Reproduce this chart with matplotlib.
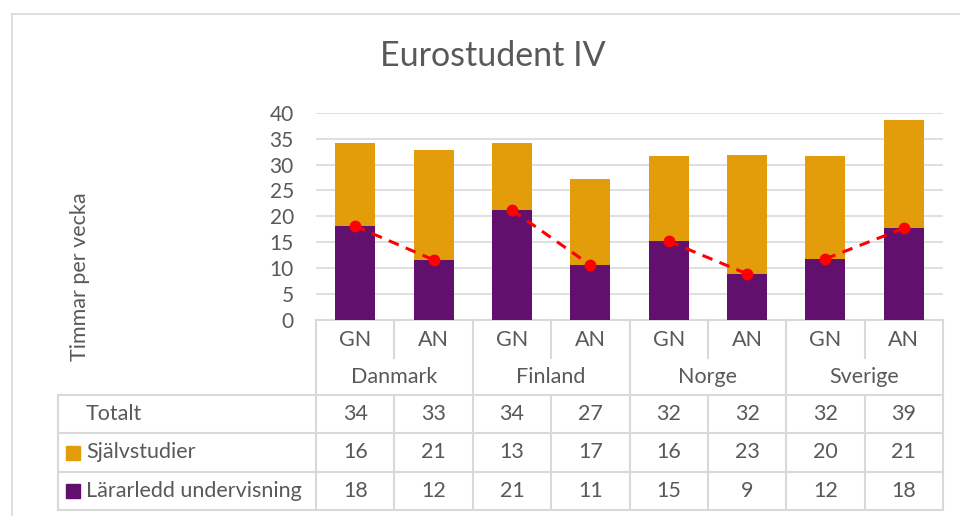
import matplotlib
matplotlib.use('Agg')
import matplotlib.pyplot as plt
from matplotlib.patches import Rectangle
from matplotlib.transforms import blended_transform_factory

plt.rcParams['font.family'] = ['Lato', 'DejaVu Sans']

# Data
countries = ["Danmark", "Finland", "Norge", "Sverige"]
levels = ["GN", "AN"]
lararledd = [18.1, 11.6, 21.2, 10.6, 15.2, 8.9, 11.8, 17.7]
sjalvstudier = [16.1, 21.2, 12.9, 16.6, 16.4, 23.0, 19.8, 20.9]
yticks = [0, 5, 10, 15, 20, 25, 30, 35, 40]

totalt = [a + b for a, b in zip(lararledd, sjalvstudier)]

purple = "#61116D"
orange = "#E39C0A"
grey_txt = "#595959"
grid_col = "#D9D9D9"
fs = 15.5

W, H = 960, 516
fig = plt.figure(figsize=(W / 100, H / 100), dpi=100)

# overlay axes in pixel coordinates for the table / frame
ov = fig.add_axes([0, 0, 1, 1])
ov.set_xlim(0, W)
ov.set_ylim(H, 0)
ov.axis('off')

left, right, top, bottom = 316, 943, 112.7, 320
ax = fig.add_axes([left / W, 1 - bottom / H, (right - left) / W, (bottom - top) / H])
ax.set_facecolor('none')

x = list(range(len(lararledd)))
ax.bar(x, lararledd, width=0.51, color=purple, zorder=3)
ax.bar(x, sjalvstudier, width=0.51, bottom=lararledd, color=orange, zorder=3)

# red dashed line between GN and AN within each country
for i in range(len(countries)):
    xs = x[2 * i:2 * i + 2]
    ys = lararledd[2 * i:2 * i + 2]
    ax.plot(xs, ys, color="red", linestyle=(0, (3.5, 2.5)), linewidth=2.2, marker='o',
            markersize=7.5, zorder=4)

ax.set_xlim(-0.5, len(x) - 0.5)
ax.set_ylim(0, 40)
ax.set_yticks(yticks)
ax.set_xticks([])
ax.grid(axis='y', color=grid_col, linewidth=1.2, zorder=0)
for s in ax.spines.values():
    s.set_visible(False)
ax.tick_params(axis='y', length=0, labelsize=15, labelcolor=grey_txt, pad=16)

# frame of the chart
ov.plot([12, 12], [14, H], color=grid_col, lw=1.2)
ov.plot([12, W], [14, 14], color=grid_col, lw=1.2)

fig.text(493 / W, 1 - 56 / H, "Eurostudent IV", ha='center', va='center', fontsize=24.5, color=grey_txt)
fig.text(80 / W, 1 - 277 / H, "Timmar per vecka", ha='center', va='center', rotation=90,
         fontsize=fs, color=grey_txt)

# table
tr = blended_transform_factory(ax.transData, ov.transData)
line_kw = dict(color=grid_col, lw=1.5, clip_on=False, transform=tr)
n = len(x)
edges = [i - 0.5 for i in range(n + 1)]

ov.plot([-0.5, n - 0.5], [320, 320], **line_kw)
for e in edges:
    k = int(e + 0.5)
    if k % 2 == 0:
        ov.plot([e, e], [320, 510], **line_kw)
    else:
        ov.plot([e, e], [320, 358], **line_kw)
        ov.plot([e, e], [395, 510], **line_kw)

row_y = [395, 433, 472, 510]
inv = ax.transData.inverted()
# left edge of data table in data units
x58 = inv.transform(fig.transFigure.transform((58 / W, 0)))[0]
for yy in row_y:
    ov.plot([x58, n - 0.5], [yy, yy], **line_kw)
ov.plot([x58, x58], [395, 510], **line_kw)

txt_kw = dict(ha='center', va='center', fontsize=fs, color=grey_txt, transform=tr)
for i in x:
    ov.text(i, 340, levels[i % 2], **txt_kw)
for c, name in enumerate(countries):
    ov.text(2 * c + 0.5, 377, name, **txt_kw)

rows = [("Totalt", totalt, None),
        ("Självstudier", sjalvstudier, orange),
        ("Lärarledd undervisning", lararledd, purple)]
for r, (label, vals, col) in enumerate(rows):
    yc = (row_y[r] + row_y[r + 1]) / 2
    ov.text(86, yc, label, ha='left', va='center', fontsize=fs, color=grey_txt)
    if col is not None:
        ov.add_patch(Rectangle((66, yc - 7), 14, 14, color=col))
    for i, v in enumerate(vals):
        ov.text(i, yc, f"{v:.0f}", **txt_kw)

fig.savefig("out.png", dpi=100)
